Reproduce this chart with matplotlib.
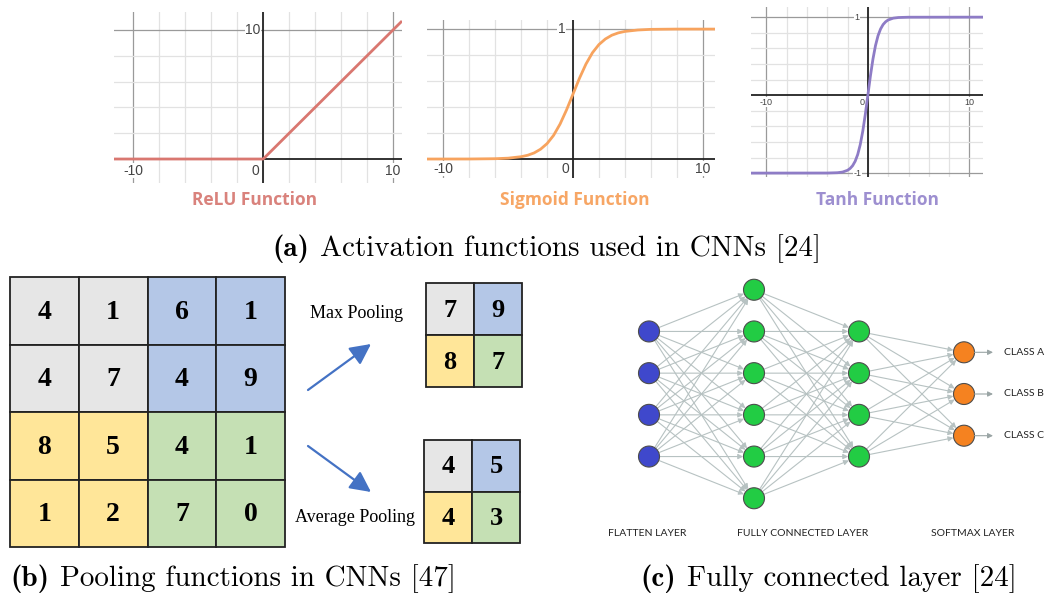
import matplotlib.pyplot as plt
from matplotlib.patches import Rectangle, Circle

# activation curves (sampled points)
relu_x = [-11.5, 0, 10.7]
relu_y = [0, 0, 10.7]
sig_x = [-11.3, -8, -6, -5, -4, -3.5, -3, -2.5, -2, -1.5, -1, -0.5, 0,
         0.5, 1, 1.5, 2, 2.5, 3, 3.5, 4, 5, 6, 8, 11]
sig_y = [0.0, 0.0003, 0.0025, 0.0067, 0.018, 0.029, 0.047, 0.076, 0.119, 0.182,
         0.269, 0.378, 0.5, 0.622, 0.731, 0.818, 0.881, 0.924, 0.953, 0.971,
         0.982, 0.993, 0.998, 1.0, 1.0]
tanh_x = [-11.5, -4, -3, -2.5, -2, -1.75, -1.5, -1.25, -1, -0.75, -0.5, -0.25, 0,
          0.25, 0.5, 0.75, 1, 1.25, 1.5, 1.75, 2, 2.5, 3, 4, 11.5]
tanh_y = [-1.0, -0.999, -0.995, -0.987, -0.964, -0.941, -0.905, -0.848, -0.762,
          -0.635, -0.462, -0.245, 0.0, 0.245, 0.462, 0.635, 0.762, 0.848, 0.905,
          0.941, 0.964, 0.987, 0.995, 0.999, 1.0]

# pooling example
pool_input = [[4, 1, 6, 1],
              [4, 7, 4, 9],
              [8, 5, 4, 1],
              [1, 2, 7, 0]]
max_pooled = [[7, 9], [8, 7]]
avg_pooled = [[4, 5], [4, 3]]
quad_colors = [["#e6e6e6", "#b4c7e7"], ["#ffe699", "#c5e0b4"]]

# fully connected network
layer_sizes = [4, 6, 4, 3]
layer_colors = ["#3f48cc", "#22cc44", "#22cc44", "#f58220"]
layer_names = ["FLATTEN LAYER", "FULLY CONNECTED LAYER", "SOFTMAX LAYER"]
class_names = ["CLASS A", "CLASS B", "CLASS C"]

W, H = 1051, 599
fig = plt.figure(figsize=(W / 100, H / 100), dpi=100)


def box(l, t, r, b):
    return [l / W, 1 - b / H, (r - l) / W, (b - t) / H]


def activation(rect, xs, ys, color, xlim, ylim, hlines, major_h, labels, fsize):
    ax = fig.add_axes(rect)
    ax.set_xlim(xlim)
    ax.set_ylim(ylim)
    ax.axis("off")
    for gx in range(-10, 11, 2):
        ax.axvline(gx, color="#9a9a9a" if abs(gx) == 10 else "#e2e2e2", lw=0.9, zorder=1)
    for gy in hlines:
        ax.axhline(gy, color="#9a9a9a" if gy in major_h else "#e2e2e2", lw=0.9, zorder=1)
    ax.axhline(0, color="#222222", lw=1.3, zorder=2)
    ax.axvline(0, color="#222222", lw=1.3, zorder=2)
    ax.plot(xs, ys, color=color, lw=2, zorder=3, solid_capstyle="butt")
    for txt, x, y, ha in labels:
        ax.text(x, y, txt, ha=ha, va="center", fontsize=fsize, color="#444444",
                family="Liberation Sans", zorder=4,
                bbox=dict(fc="white", ec="none", pad=0.3))
    return ax


activation(box(114, 12, 402, 183), relu_x, relu_y, "#d97770", (-11.5, 10.7), (-1.86, 11.4),
           [2, 4, 6, 8, 10], [10],
           [("10", -0.2, 10, "right"), ("0", -0.6, -0.9, "center"),
            ("-10", -10, -0.9, "center"), ("10", 10, -0.9, "center")], 10)
activation(box(427, 20, 715, 178), sig_x, sig_y, "#f7a35e", (-11.27, 10.96), (-0.146, 1.07),
           [0.2, 0.4, 0.6, 0.8, 1.0], [1.0],
           [("1", -0.9, 1, "center"), ("0", -0.6, -0.075, "center"),
            ("-10", -10, -0.075, "center"), ("10", 10, -0.075, "center")], 10)
activation(box(751, 7, 983, 177), tanh_x, tanh_y, "#8e7cc6", (-11.5, 11.33), (-1.05, 1.13),
           [-1, -0.8, -0.6, -0.4, -0.2, 0.2, 0.4, 0.6, 0.8, 1], [1, -1],
           [("1", -1.1, 1, "center"), ("-1", -1.0, -1.01, "center"),
            ("0", -0.6, -0.09, "center"), ("-10", -10, -0.09, "center"),
            ("10", 10, -0.09, "center")], 6.5)

# overlay in pixel coordinates for the rest
ax = fig.add_axes([0, 0, 1, 1])
ax.set_xlim(0, W)
ax.set_ylim(H, 0)
ax.axis("off")

title_font = dict(family="Open Sans", weight="bold", fontsize=12.5, ha="center", va="center")
ax.text(255, 200, "ReLU Function", color="#d9827c", **title_font)
ax.text(575, 200, "Sigmoid Function", color="#f7a665", **title_font)
ax.text(877, 200, "Tanh Function", color="#9d8fd0", **title_font)


def caption(x, y, tag, text):
    t1 = ax.text(x, y, tag, family="cmb10", fontsize=21, ha="left", va="center")
    fig.canvas.draw()
    bb = t1.get_window_extent()
    # overlay axes maps one data unit to one pixel, so display x works as data x
    ax.text(bb.x1 + 11, y, text, family="cmr10", fontsize=21, ha="left", va="center")


caption(272, 249, "(a)", "Activation functions used in CNNs [24]")
caption(10, 579, "(b)", "Pooling functions in CNNs [47]")
caption(640, 579, "(c)", "Fully connected layer [24]")


def grid(values, left, top, cw, ch, fsize, block):
    n = len(values)
    for r in range(n):
        for c in range(n):
            col = quad_colors[r // block][c // block]
            ax.add_patch(Rectangle((left + c * cw, top + r * ch), cw, ch, fc=col,
                                   ec="#222222", lw=1.3))
            ax.text(left + (c + 0.5) * cw, top + (r + 0.52) * ch, str(values[r][c]),
                    family="Liberation Serif", weight="bold", fontsize=fsize,
                    ha="center", va="center")


grid(pool_input, 10, 277, 68.75, 67.5, 20, 2)
grid(max_pooled, 426, 283, 48, 52, 19, 1)
grid(avg_pooled, 424, 440, 48, 51.5, 19, 1)

pool_font = dict(family="Liberation Serif", fontsize=13, ha="center", va="center")
ax.text(357, 313, "Max Pooling", **pool_font)
ax.text(355, 518, "Average Pooling", **pool_font)
arrow_kw = dict(arrowstyle="-|>,head_length=0.9,head_width=0.45", color="#4472c4",
                lw=1.6, mutation_scale=14, shrinkA=0, shrinkB=0)
ax.annotate("", xy=(371, 344), xytext=(308, 390), arrowprops=arrow_kw)
ax.annotate("", xy=(371, 492), xytext=(308, 446), arrowprops=arrow_kw)

# network diagram
layer_x = [649, 754, 859, 964]
spacing = 41.7
center_y = 394
radius = 10.5
nodes = []
for n in layer_sizes:
    nodes.append([center_y + (i - (n - 1) / 2) * spacing for i in range(n)])

link_kw = dict(arrowstyle="-|>,head_length=0.5,head_width=0.25", color="#b7c2c2",
               lw=0.8, mutation_scale=6, shrinkA=7.5, shrinkB=7.8)
for li in range(len(layer_sizes) - 1):
    for ya in nodes[li]:
        for yb in nodes[li + 1]:
            ax.annotate("", xy=(layer_x[li + 1], yb), xytext=(layer_x[li], ya),
                        arrowprops=link_kw, zorder=2)
for li, ys in enumerate(nodes):
    for y in ys:
        ax.add_patch(Circle((layer_x[li], y), radius, fc=layer_colors[li],
                            ec="#4d4d4d", lw=0.8, zorder=3))

out_kw = dict(arrowstyle="-|>,head_length=0.5,head_width=0.25", color="#9aa5a5",
              lw=0.8, mutation_scale=6, shrinkA=0, shrinkB=0)
for y, name in zip(nodes[-1], class_names):
    ax.annotate("", xy=(993, y), xytext=(layer_x[-1] + radius, y), arrowprops=out_kw)
    ax.text(1004, y, name, family="Lato", fontsize=7.5, ha="left", va="center",
            color="#222222")

for x, name in zip([647, 803, 973], layer_names):
    ax.text(x, 533, name, family="Lato", fontsize=7.5, ha="center",
            va="center", color="#222222")

fig.savefig("out.png", dpi=100)
